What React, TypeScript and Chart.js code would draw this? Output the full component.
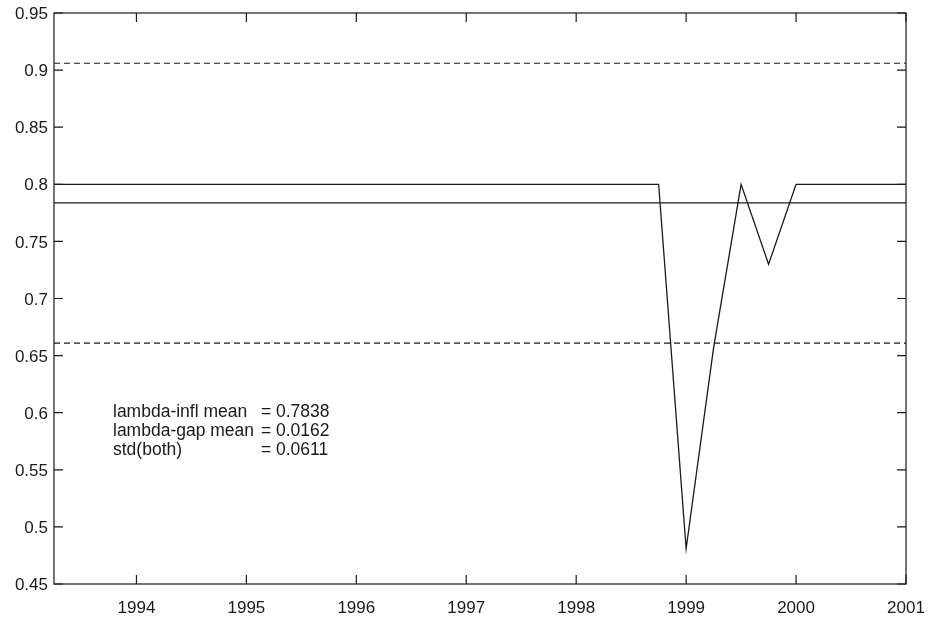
import React, { useEffect, useRef } from "react";
import { Chart, registerables } from "chart.js";

Chart.register(...registerables);

const quarters = [
  1993.25, 1993.5, 1993.75,
  1994, 1994.25, 1994.5, 1994.75,
  1995, 1995.25, 1995.5, 1995.75,
  1996, 1996.25, 1996.5, 1996.75,
  1997, 1997.25, 1997.5, 1997.75,
  1998, 1998.25, 1998.5, 1998.75,
  1999, 1999.25, 1999.5, 1999.75,
  2000, 2000.25, 2000.5, 2000.75,
  2001,
];
const lambdaInfl = [
  0.8, 0.8, 0.8,
  0.8, 0.8, 0.8, 0.8,
  0.8, 0.8, 0.8, 0.8,
  0.8, 0.8, 0.8, 0.8,
  0.8, 0.8, 0.8, 0.8,
  0.8, 0.8, 0.8, 0.8,
  0.481, 0.657, 0.8, 0.73,
  0.8, 0.8, 0.8, 0.8,
  0.8,
];
const meanValue = 0.7838;
const upperBand = 0.906;
const lowerBand = 0.661;
const xMin = 1993.25;
const xMax = 2001;
const xTicks = [1994, 1995, 1996, 1997, 1998, 1999, 2000, 2001];
const yTicks = [0.45, 0.5, 0.55, 0.6, 0.65, 0.7, 0.75, 0.8, 0.85, 0.9, 0.95];
const yTickLabels = ["0.45", "0.5", "0.55", "0.6", "0.65", "0.7", "0.75", "0.8", "0.85", "0.9", "0.95"];
const statNames = ["lambda-infl mean", "lambda-gap mean", "std(both)"];
const statValues = ["0.7838", "0.0162", "0.0611"];

const FONT = "'Liberation Sans', Arial, Helvetica, sans-serif";
const INK = "#1a1a1a";

const framePlugin = {
  id: "frame",
  afterDatasetsDraw(chart: any) {
    const { ctx, chartArea: a, scales } = chart;
    const xs = scales.x;
    const ys = scales.y;
    ctx.save();
    ctx.strokeStyle = INK;
    ctx.lineWidth = 1.2;
    ctx.strokeRect(a.left, a.top, a.right - a.left, a.bottom - a.top);
    const tl = 9;
    ctx.beginPath();
    for (const t of xTicks) {
      const px = xs.getPixelForValue(t);
      ctx.moveTo(px, a.bottom);
      ctx.lineTo(px, a.bottom - tl);
      ctx.moveTo(px, a.top);
      ctx.lineTo(px, a.top + tl);
    }
    for (const t of yTicks) {
      const py = ys.getPixelForValue(t);
      ctx.moveTo(a.left, py);
      ctx.lineTo(a.left + tl, py);
      ctx.moveTo(a.right, py);
      ctx.lineTo(a.right - tl, py);
    }
    ctx.stroke();

    ctx.fillStyle = INK;
    ctx.font = `17.5px ${FONT}`;
    ctx.textBaseline = "alphabetic";
    ctx.textAlign = "left";
    const x0 = a.left + 59;
    const xEq = a.left + 207;
    const xVal = a.left + 222;
    const y0 = a.top + 403.5;
    const dy = 19;
    statNames.forEach((n, i) => {
      const y = y0 + i * dy;
      ctx.fillText(n, x0, y);
      ctx.fillText("=", xEq, y);
      ctx.fillText(statValues[i], xVal, y);
    });
    ctx.restore();
  },
};

export default function App() {
  const ref = useRef<HTMLCanvasElement | null>(null);
  useEffect(() => {
    if (!ref.current) return;
    const lineData = quarters.map((q, i) => ({ x: q, y: lambdaInfl[i] }));
    const chart = new Chart(ref.current, {
      type: "line",
      data: {
        datasets: [
          {
            data: lineData,
            borderColor: INK,
            borderWidth: 1.3,
            pointRadius: 0,
            tension: 0,
          },
          {
            data: [{ x: xMin, y: meanValue }, { x: xMax, y: meanValue }],
            borderColor: INK,
            borderWidth: 1.3,
            pointRadius: 0,
          },
          {
            data: [{ x: xMin, y: upperBand }, { x: xMax, y: upperBand }],
            borderColor: INK,
            borderWidth: 1.2,
            borderDash: [6, 4],
            pointRadius: 0,
          },
          {
            data: [{ x: xMin, y: lowerBand }, { x: xMax, y: lowerBand }],
            borderColor: INK,
            borderWidth: 1.2,
            borderDash: [6, 4],
            pointRadius: 0,
          },
        ],
      },
      options: {
        animation: false,
        responsive: true,
        maintainAspectRatio: false,
        layout: { padding: { top: 13, right: 25, left: 0, bottom: 0 } },
        plugins: { legend: { display: false }, tooltip: { enabled: false } },
        scales: {
          x: {
            type: "linear",
            min: xMin,
            max: xMax,
            grid: { display: false, drawTicks: false },
            border: { display: false },
            afterBuildTicks: (s: any) => {
              s.ticks = xTicks.map((v) => ({ value: v }));
            },
            afterFit: (s: any) => {
              s.height = 38;
              s.paddingLeft = 0;
              s.paddingRight = 0;
            },
            ticks: {
              padding: 14,
              color: INK,
              font: { family: FONT, size: 17 },
              maxRotation: 0,
              callback: (v: any) => String(v),
            },
          },
          y: {
            type: "linear",
            min: 0.45,
            max: 0.95,
            grid: { display: false, drawTicks: false },
            border: { display: false },
            afterBuildTicks: (s: any) => {
              s.ticks = yTicks.map((v) => ({ value: v }));
            },
            afterFit: (s: any) => {
              s.width = 54;
              s.paddingTop = 0;
              s.paddingBottom = 0;
            },
            ticks: {
              padding: 6,
              labelOffset: 1.5,
              color: INK,
              font: { family: FONT, size: 17 },
              callback: (v: any) => {
                const i = yTicks.findIndex((t) => Math.abs(t - v) < 1e-9);
                return i >= 0 ? yTickLabels[i] : "";
              },
            },
          },
        },
      },
      plugins: [framePlugin],
    } as any);
    return () => chart.destroy();
  }, []);
  return (
    <div style={{ position: "fixed", left: 0, top: 0, width: 931, height: 622, background: "#fff" }}>
      <canvas ref={ref} />
    </div>
  );
}
